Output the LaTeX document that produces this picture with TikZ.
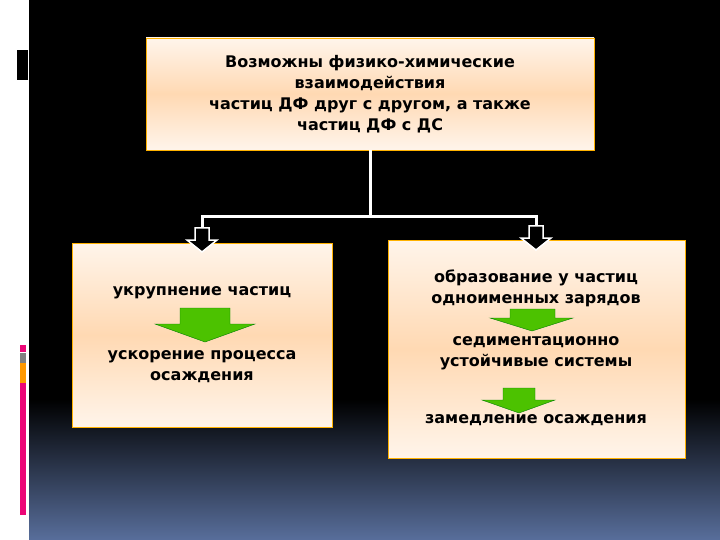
\documentclass[tikz,border=0pt]{standalone}
\usepackage{fontspec}
\setmainfont{DejaVu Sans}
\begin{document}
\begin{tikzpicture}[x=1pt,y=-1pt,
  box/.style={draw=orange!60!yellow,line width=0.8pt,top color=orange!8,bottom color=orange!8,middle color=orange!30},
  txt/.style={font=\fontsize{16}{21}\selectfont\bfseries,align=center,text=black,inner sep=0pt},
  conn/.style={draw=white,line width=3pt},
  garrow/.style={fill=green!60!black!60!lime,draw=green!50!black,line width=0.4pt},
  barrow/.style={fill=black,draw=white,line width=1.5pt}]
\useasboundingbox (0,0) rectangle (720,540);
\fill[white] (0,0) rectangle (29,540);
\fill[black] (29,0) rectangle (720,400);
\shade[top color=black,bottom color={rgb,255:red,88;green,110;blue,155}] (29,399) rectangle (720,540);
\fill[black] (17,50) rectangle (28,80);
\fill[magenta!80!red] (20,345) rectangle (26,352);
\fill[gray] (20,353) rectangle (26,363);
\fill[orange!80!yellow] (20,363) rectangle (26,383);
\fill[magenta!80!red] (20,383) rectangle (26,515);
\path[box] (146,38) rectangle (594,150);
\node[txt] (top) at (370,94) {Возможны физико-химические\\взаимодействия\\частиц ДФ друг с другом, а также\\частиц ДФ с ДС};
\path[box] (72,243) rectangle (332,427);
\path[box] (388,240) rectangle (685,458);
\node[txt] (l1) at (202,293) {укрупнение частиц};
\node[txt] (l2) at (202,367) {ускорение процесса\\осаждения};
\node[txt] (r1) at (536,288) {образование у частиц\\одноименных зарядов};
\node[txt] (r2) at (536,353) {седиментационно\\устойчивые системы};
\node[txt] (r3) at (536,420) {замедление осаждения};
\coordinate (tb) at (370,150);
\coordinate (jn) at (370,217);
\coordinate (la) at (202,217);
\coordinate (ra) at (536,217);
\draw[conn] (tb) -- (jn);
\draw[conn,line cap=rect] (la) -- (ra);
\draw[conn] (la) -- (202,228);
\draw[conn] (ra) -- (536,228);
\draw[barrow] (195,228) -- (209,228) -- (209,240) -- (217,240) -- (202,252) -- (187,240) -- (195,240) -- cycle;
\draw[barrow] (529,226) -- (543,226) -- (543,238) -- (551,238) -- (536,250) -- (521,238) -- (529,238) -- cycle;
\draw[garrow] (180,308) -- (230,308) -- (230,324) -- (255,324) -- (205,342) -- (155,324) -- (180,324) -- cycle;
\draw[garrow] (510,309) -- (555,309) -- (555,318) -- (573,318) -- (532,331) -- (490,318) -- (510,318) -- cycle;
\draw[garrow] (503,388) -- (535,388) -- (535,400) -- (555,400) -- (519,413) -- (482,400) -- (503,400) -- cycle;
\end{tikzpicture}
\end{document}
